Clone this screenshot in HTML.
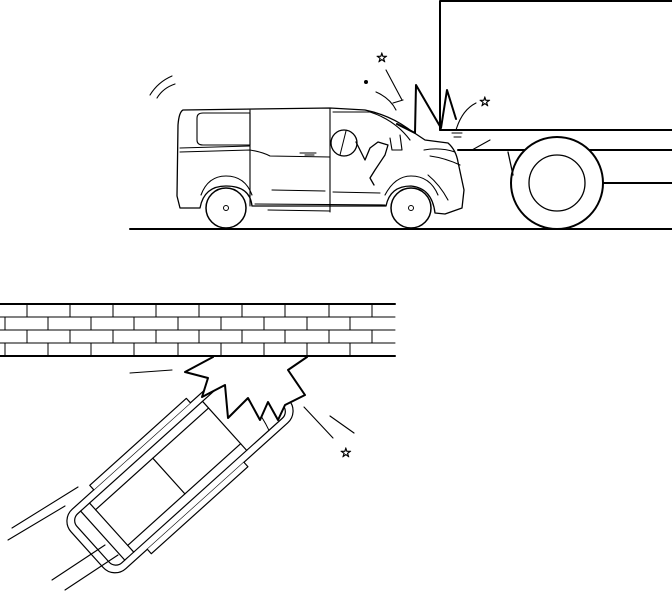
<!DOCTYPE html>
<html><head><style>
html,body{margin:0;padding:0;background:#fff;width:672px;height:591px;overflow:hidden}
svg{display:block}
</style></head><body>
<svg width="672" height="591" viewBox="0 0 672 591" xmlns="http://www.w3.org/2000/svg" fill="none" stroke="#000" stroke-linecap="round" stroke-linejoin="round">
<g stroke-width="2">
<path d="M440,130 L440,1 L672,1"/>
<path d="M440,130 L672,130"/>
<path d="M458,150 L672,150"/>
<path d="M603,183 L672,183"/>
<line x1="130" y1="229" x2="672" y2="229"/>
</g>
<circle cx="557" cy="183" r="46" stroke-width="2" fill="#fff"/>
<circle cx="557" cy="183" r="28" stroke-width="1.3"/>
<path d="M508,152 L513,175" stroke-width="1.3"/>
<g stroke-width="1.3" fill="#fff">
<path d="M183,110 L330,108 L365,110 Q390,115 410,130 L425,140 L448,143 Q456,150 458,162 L464,190 L462,208 L445,214 L435,213 Q432,188 411,186 Q390,186 386,206 L252,206 Q250,186 226,186 Q204,186 200,208 L180,208 L177,196 L178,125 Q179,112 183,110 Z"/>
</g>
<g stroke-width="1.1">
<path d="M197,118 Q197,113 203,113 L250,113 L250,145 L203,145 Q197,145 197,140 Z"/>
<path d="M180,152 L250,150 Q262,152 270,156 L330,157"/>
<path d="M180,148 L250,146"/>
<line x1="250" y1="110" x2="250" y2="206"/>
<line x1="330" y1="108" x2="330" y2="212"/>
<path d="M333,112 L370,112 Q395,120 410,140"/>
<path d="M300,153 L316,153 M305,155 L314,155"/>
<path d="M272,190 L325,191 M333,192 L380,193"/>
<path d="M268,210 L330,211 M255,204 L385,205"/>
<path d="M424,150 Q440,147 455,152 M430,156 Q445,158 460,165"/>
<path d="M390,138 L392,150 L402,150 L400,135"/>
<path d="M428,175 Q440,185 448,200"/>
<path d="M385,195 Q395,176 411,176 Q430,176 438,195"/>
<path d="M201,195 Q208,176 226,176 Q245,176 252,195"/>
</g>
<circle cx="226" cy="208" r="20" stroke-width="1.5" fill="#fff"/>
<circle cx="226" cy="208" r="2.5" stroke-width="1"/>
<circle cx="411" cy="208" r="20" stroke-width="1.5" fill="#fff"/>
<circle cx="411" cy="208" r="2.5" stroke-width="1"/>
<circle cx="344" cy="143" r="13" stroke-width="1.3" fill="#fff"/>
<path d="M346,131 L340,155" stroke-width="1"/>
<path d="M356,142 L365,160 L370,148 L378,142 L388,145 L385,155 L375,170 L370,178 L374,185" stroke-width="1.3"/>
<path d="M397,124 L415,133 L416,85 L441,128 L447,90 L456,119" stroke-width="2"/>
<path d="M150,95 Q158,82 172,76 M157,98 Q163,88 175,84" stroke-width="1.1"/>
<path d="M393,103 L403,100 M376,92 Q390,98 396,110 M386,70 L402,100 M456,130 Q462,110 476,103 M452,133 L462,133 M454,137 L461,137 M472,150 L490,140" stroke-width="1.1"/>
<text x="376" y="62" font-family="DejaVu Sans" font-size="13" fill="#fff" stroke="#000" stroke-width="0.8">☆</text>
<text x="479" y="106" font-family="DejaVu Sans" font-size="13" fill="#fff" stroke="#000" stroke-width="0.8">☆</text>
<circle cx="366" cy="82" r="2" fill="#000" stroke="none"/>
<g stroke-width="2">
<line x1="0" y1="304" x2="395" y2="304"/>
<line x1="0" y1="356" x2="395" y2="356"/>
</g>
<g stroke-width="1">
<line x1="0" y1="317" x2="395" y2="317"/>
<line x1="0" y1="330" x2="395" y2="330"/>
<line x1="0" y1="343" x2="395" y2="343"/>
<path d="M27,304V317M70,304V317M113,304V317M156,304V317M199,304V317M242,304V317M285,304V317M329,304V317M372,304V317"/>
<path d="M27,330V343M70,330V343M113,330V343M156,330V343M199,330V343M242,330V343M285,330V343M329,330V343M372,330V343"/>
<path d="M5,317V330M48,317V330M91,317V330M134,317V330M178,317V330M221,317V330M264,317V330M307,317V330M350,317V330"/>
<path d="M5,343V356M48,343V356M91,343V356M134,343V356M178,343V356M221,343V356M264,343V356M307,343V356M350,343V356"/>
</g>
<g transform="translate(180,466) rotate(-42)" stroke-width="1.2" fill="#fff">
<rect x="-125" y="-40" width="250" height="80" rx="16"/>
<rect x="-117" y="-33" width="234" height="66" rx="9"/>
<line x1="-92" y1="-33" x2="-92" y2="33"/>
<line x1="-104" y1="-33" x2="-104" y2="33"/>
<line x1="-92" y1="-24" x2="60" y2="-24"/>
<line x1="-92" y1="24" x2="60" y2="24"/>
<line x1="-15" y1="-24" x2="-15" y2="24"/>
<line x1="60" y1="-33" x2="60" y2="33"/>
<path d="M90,-33 Q100,0 90,33" stroke-width="1"/>
<path d="M-80,-40 L-80,-46 L50,-46 L50,-40 M-80,40 L-80,46 L50,46 L50,40"/>
</g>
<path d="M213,357 L185,372 L208,378 L202,397 L225,385 L228,418 L248,398 L260,420 L268,402 L278,420 L285,405 L305,395 L288,370 L307,357" stroke-width="2" fill="#fff"/>
<path d="M130,373 L172,370 M304,407 L333,438 M330,416 L354,433" stroke-width="1.1"/>
<path d="M12,528 L78,487 M8,540 L65,506 M52,580 L105,545 M65,590 L118,555" stroke-width="1.1"/>
<text x="340" y="457" font-family="DejaVu Sans" font-size="13" fill="#fff" stroke="#000" stroke-width="0.8">☆</text>
</svg>
</body></html>
